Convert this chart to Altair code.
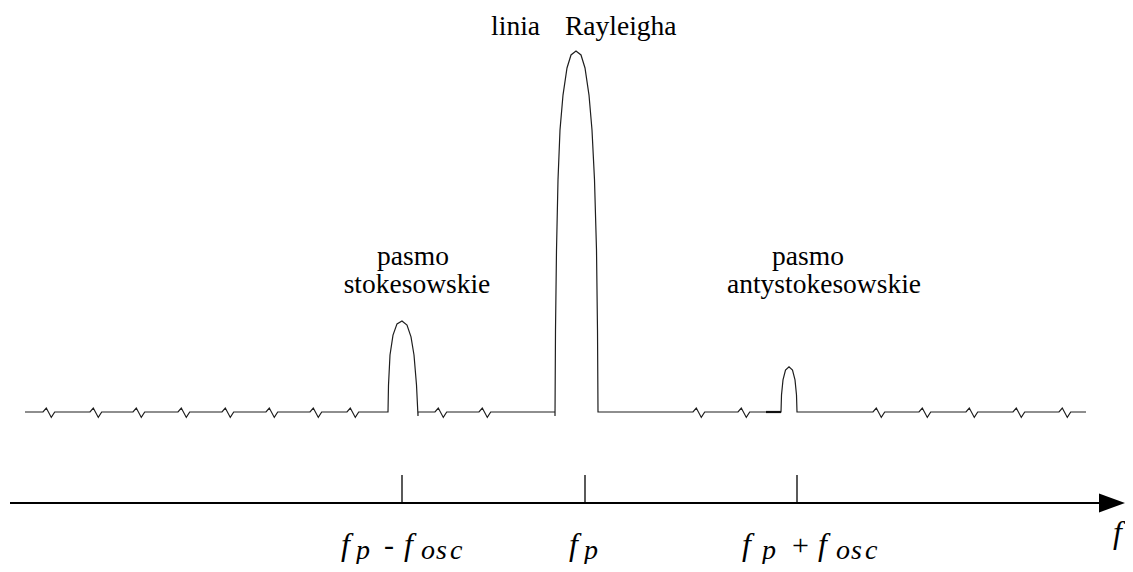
import altair as alt
import pandas as pd

# ---- spectrum (x: frequency position along the drawn axis, y: intensity, Rayleigh line = 1) ----
baseline_start = 25
baseline_end = 1086
zigzag_starts = [43, 90, 133, 178, 222, 266, 310, 347, 435, 479, 693, 738, 873, 919, 966, 1013, 1059]
zigzag_dx = [0, 3.3, 8.3, 11.7]
zigzag_dy = [0, 0.011, -0.015, 0]

stokes_x = [388, 388.5, 390, 393, 397, 402, 407, 411, 414, 416.5, 418, 418]
stokes_y = [0, 0.075, 0.158, 0.213, 0.244, 0.252, 0.241, 0.208, 0.158, 0.075, -0.011, 0]

rayleigh_x = [555, 555, 555.5, 556.5, 558, 560, 563, 567, 571, 576, 581, 585, 589, 592, 594.5, 596.5, 597.5, 598]
rayleigh_y = [0, -0.011, 0.227, 0.449, 0.643, 0.781, 0.878, 0.953, 0.989, 1.0, 0.989, 0.953, 0.878, 0.781, 0.643, 0.449, 0.227, 0]

anti_x = [781, 781.5, 783, 785.5, 789, 792.5, 795, 796.5, 797]
anti_y = [0, 0.047, 0.089, 0.116, 0.125, 0.116, 0.089, 0.047, 0]

heavy_segment = [766, 781]   # short darker stretch of baseline left of the anti-Stokes band

# ---- frequency axis ----
axis_start = 10
axis_end = 1100
arrow_center = 1112
axis_level = -0.252
tick_top = -0.1745
tick_values = [402, 585, 797]

# ---- tick label pieces ----
piece_text = ["f", "p", "-", "f", "o", "s", "c",
              "f", "p",
              "f", "p", "+", "f", "o", "s", "c"]
piece_x = [341, 356, 384, 404, 421, 436, 450,
           569, 584,
           742, 762, 792, 818, 836, 851, 865]
piece_kind = ["main", "sub", "op", "main", "sub", "sub", "sub",
              "main", "sub",
              "main", "sub", "op", "main", "sub", "sub", "sub"]
main_level = -0.3961
sub_level = -0.4072
axis_name = "f"
axis_name_x = 1113
axis_name_level = -0.3629

# ---- annotations ----
note_text = ["pasmo", "stokesowskie", "pasmo", "antystokesowskie"]
note_x = [413, 417, 808, 824]
note_y = [0.4072, 0.3296, 0.4072, 0.3296]
ray_left_text, ray_left_x = "linia", 540
ray_right_text, ray_right_x = "Rayleigha", 565
ray_level = 1.0443

# ---- build the spectrum path in drawing order ----
features = [list(zip([s + d for d in zigzag_dx], zigzag_dy)) for s in zigzag_starts]
features += [list(zip(stokes_x, stokes_y)), list(zip(rayleigh_x, rayleigh_y)), list(zip(anti_x, anti_y))]
features.sort(key=lambda f: f[0][0])
pts = [(baseline_start, 0.0)]
for f in features:
    pts += f
pts.append((baseline_end, 0.0))
spec = pd.DataFrame({"x": [p[0] for p in pts], "y": [p[1] for p in pts], "i": list(range(len(pts)))})

xs = alt.Scale(domain=[8, 1125], range=[0, 1117])
ys = alt.Scale(domain=[-0.42105, 1.11911], range=[556, 0])
FONT = "Liberation Serif"
X = lambda: alt.X("x:Q", scale=xs, axis=None)
Y = lambda: alt.Y("y:Q", scale=ys, axis=None)

line = alt.Chart(spec).mark_line(color="#1e1e1e", strokeWidth=1.2).encode(x=X(), y=Y(), order="i:Q")

heavy_df = pd.DataFrame({"x": [heavy_segment[0]], "x2": [heavy_segment[1]], "y": [0.0]})
heavy = alt.Chart(heavy_df).mark_rule(color="#111111", strokeWidth=2.2).encode(x=X(), x2="x2:Q", y=Y())

axis_df = pd.DataFrame({"x": [axis_start], "x2": [axis_end], "y": [axis_level]})
axis_line = alt.Chart(axis_df).mark_rule(color="black", strokeWidth=2).encode(x=X(), x2="x2:Q", y=Y())

arrow_df = pd.DataFrame({"x": [arrow_center], "y": [axis_level]})
arrow = alt.Chart(arrow_df).mark_point(
    shape="M -1 -0.73 L 1 0 L -1 0.73 Z", size=676, filled=True, color="black", opacity=1, strokeWidth=0
).encode(x=X(), y=Y())

ticks_df = pd.DataFrame({"x": tick_values, "y": [tick_top] * 3, "y2": [axis_level] * 3})
ticks = alt.Chart(ticks_df).mark_rule(color="black", strokeWidth=1.3).encode(x=X(), y=Y(), y2="y2:Q")

pieces = pd.DataFrame({"t": piece_text, "x": piece_x, "kind": piece_kind})
pieces["y"] = [sub_level if k == "sub" else main_level for k in piece_kind]

def piece_layer(kind, size, style):
    return alt.Chart(pieces).transform_filter(alt.datum.kind == kind).mark_text(
        font=FONT, fontSize=size, fontStyle=style, align="left", baseline="alphabetic", color="black"
    ).encode(x=X(), y=Y(), text="t:N")

main_txt = piece_layer("main", 32, "italic")
sub_txt = piece_layer("sub", 28, "italic")
op_txt = piece_layer("op", 30, "normal")

name_df = pd.DataFrame({"t": [axis_name], "x": [axis_name_x], "y": [axis_name_level]})
name_txt = alt.Chart(name_df).mark_text(
    font=FONT, fontSize=32, fontStyle="italic", align="left", baseline="alphabetic", color="black"
).encode(x=X(), y=Y(), text="t:N")

notes_df = pd.DataFrame({"t": note_text, "x": note_x, "y": note_y})
notes = alt.Chart(notes_df).mark_text(
    font=FONT, fontSize=27.5, align="center", baseline="alphabetic", color="black"
).encode(x=X(), y=Y(), text="t:N")

ray_df = pd.DataFrame({"t": [ray_left_text, ray_right_text], "x": [ray_left_x, ray_right_x],
                       "y": [ray_level, ray_level], "a": ["right", "left"]})
ray_l = alt.Chart(ray_df).transform_filter(alt.datum.a == "right").mark_text(
    font=FONT, fontSize=27.5, align="right", baseline="alphabetic", color="black"
).encode(x=X(), y=Y(), text="t:N")
ray_r = alt.Chart(ray_df).transform_filter(alt.datum.a == "left").mark_text(
    font=FONT, fontSize=27.5, align="left", baseline="alphabetic", color="black"
).encode(x=X(), y=Y(), text="t:N")

chart = alt.layer(
    line, heavy, axis_line, arrow, ticks, main_txt, sub_txt, op_txt, name_txt, notes, ray_l, ray_r
).properties(
    width=1117, height=556, autosize="none", background="white",
    padding={"left": 0, "top": 0, "right": 0, "bottom": 0},
).configure_view(stroke=None)

chart.save("out.html", embed_options={"renderer": "svg", "actions": False})
